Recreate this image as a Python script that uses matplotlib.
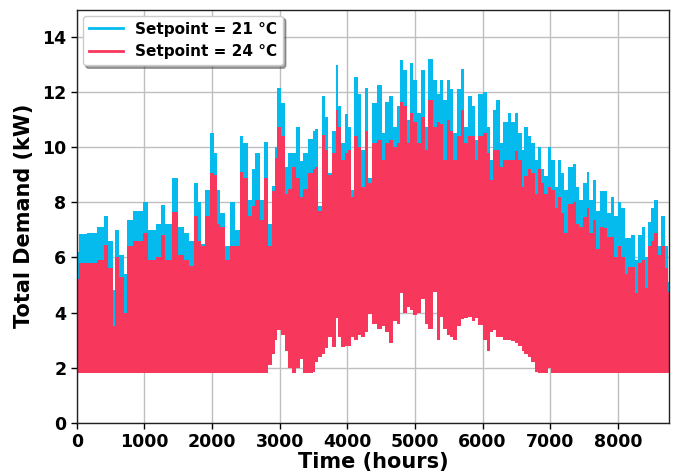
import matplotlib
matplotlib.use("Agg")
import matplotlib.pyplot as plt
from matplotlib.lines import Line2D

hours = [0, 40, 150, 300, 400, 460, 530, 565, 630, 700,
         750, 830, 980, 1050, 1170, 1240, 1300, 1410, 1500, 1590,
         1660, 1740, 1790, 1830, 1900, 1975, 2025, 2075, 2120, 2195,
         2270, 2340, 2415, 2465, 2535, 2585, 2635, 2710, 2770, 2830,
         2890, 2930, 2965, 3025, 3075, 3120, 3180, 3245, 3295, 3350,
         3415, 3490, 3520, 3570, 3620, 3670, 3720, 3770, 3830, 3870,
         3905, 3965, 4010, 4055, 4105, 4155, 4210, 4260, 4310, 4360,
         4435, 4510, 4560, 4615, 4680, 4730, 4780, 4830, 4880, 4925,
         4975, 5025, 5090, 5150, 5200, 5270, 5320, 5370, 5420, 5470,
         5520, 5570, 5620, 5680, 5730, 5780, 5840, 5885, 5935, 6010,
         6060, 6110, 6160, 6205, 6255, 6305, 6370, 6425, 6475, 6525,
         6580, 6620, 6670, 6720, 6770, 6820, 6865, 6915, 6965, 7015,
         7064, 7113, 7160, 7210, 7270, 7335, 7385, 7430, 7480, 7540,
         7580, 7630, 7680, 7730, 7790, 7840, 7900, 7950, 8000, 8050,
         8100, 8150, 8200, 8250, 8300, 8350, 8395, 8445, 8490, 8540,
         8590, 8640, 8690, 8740, 8760]

# upper envelope, setpoint 21 C (kW)
peak_21 = [6.2, 6.85, 6.9, 7.1, 7.5, 6.6, 4.8, 7.0, 6.1, 5.4,
           7.35, 7.7, 8.0, 7.0, 7.2, 7.9, 7.2, 8.9, 7.1, 6.9,
           6.6, 8.7, 8.0, 6.5, 8.45, 10.5, 9.8, 8.45, 7.6, 6.4,
           8.0, 7.0, 10.4, 10.15, 8.1, 9.2, 9.8, 8.1, 10.2, 7.2,
           8.6, 10.0, 12.15, 11.6, 9.3, 9.8, 9.8, 10.75, 9.5, 9.8,
           10.3, 10.6, 10.65, 7.85, 11.85, 11.1, 9.05, 10.6, 13.0, 11.5,
           10.15, 11.2, 10.75, 8.45, 12.55, 11.95, 9.9, 12.15, 8.9, 11.6,
           12.25, 10.5, 11.65, 11.85, 10.75, 11.5, 13.15, 12.8, 11.0, 13.05,
           12.45, 11.25, 12.8, 10.75, 13.2, 12.45, 11.95, 12.45, 11.7, 12.45,
           12.1, 10.5, 12.1, 12.85, 10.75, 11.85, 11.5, 10.25, 11.95, 12.0,
           10.75, 9.55, 11.35, 11.7, 10.15, 10.9, 11.25, 10.9, 11.25, 10.5,
           9.9, 10.75, 10.4, 10.15, 9.55, 10.0, 9.2, 8.95, 10.0, 9.55,
           8.55, 9.55, 9.05, 8.45, 9.3, 9.4, 8.55, 8.1, 8.7, 9.1,
           8.1, 8.8, 7.7, 8.4, 8.4, 7.6, 8.2, 7.5, 8.0, 7.8,
           6.7, 6.7, 6.8, 5.9, 6.8, 7.1, 6.0, 7.3, 7.8, 8.1,
           6.4, 7.5, 6.4, 5.1, 5.0]

# upper envelope, setpoint 24 C (kW)
peak_24 = [5.2, 5.8, 5.8, 5.9, 6.45, 5.6, 3.5, 6.0, 5.3, 4.0,
           6.4, 6.6, 6.9, 5.9, 6.0, 6.8, 5.9, 7.65, 6.1, 5.9,
           5.7, 7.5, 6.6, 6.4, 7.5, 9.05, 9.0, 7.2, 7.1, 5.9,
           6.4, 6.4, 9.1, 8.9, 7.5, 7.85, 8.1, 7.35, 8.9, 6.4,
           8.4, 9.6, 10.75, 10.4, 8.3, 8.5, 9.3, 8.9, 8.2, 8.5,
           9.05, 9.2, 9.3, 7.7, 10.45, 9.9, 9.0, 9.8, 11.35, 10.75,
           9.55, 9.8, 9.9, 8.2, 10.4, 10.0, 8.55, 10.6, 8.7, 10.15,
           10.25, 9.55, 10.15, 10.25, 10.0, 10.15, 11.65, 11.5, 10.15, 11.25,
           10.9, 10.15, 11.1, 9.9, 11.7, 10.75, 10.9, 10.85, 9.55, 11.0,
           10.6, 9.55, 10.4, 11.35, 10.15, 10.4, 10.4, 9.55, 10.4, 10.5,
           9.8, 8.8, 9.9, 9.9, 9.3, 9.55, 9.55, 9.55, 9.85, 9.55,
           8.55, 8.95, 9.2, 9.05, 8.3, 9.2, 8.7, 8.3, 8.55, 8.45,
           7.8, 8.2, 7.6, 6.9, 7.95, 8.0, 7.2, 7.1, 7.45, 7.8,
           6.9, 7.35, 6.3, 7.1, 7.05, 6.75, 6.75, 6.0, 6.4, 6.0,
           5.4, 5.65, 5.65, 4.7, 5.8, 5.9, 4.9, 6.4, 6.6, 6.9,
           6.1, 6.4, 5.6, 4.75, 4.7]

# lower envelope (kW), same for both setpoints
base_demand = [1.8, 1.8, 1.8, 1.8, 1.8, 1.8, 1.8, 1.8, 1.8, 1.8,
               1.8, 1.8, 1.8, 1.8, 1.8, 1.8, 1.8, 1.8, 1.8, 1.8,
               1.8, 1.8, 1.8, 1.8, 1.8, 1.8, 1.8, 1.8, 1.8, 1.8,
               1.8, 1.8, 1.8, 1.8, 1.8, 1.8, 1.8, 1.8, 1.8, 2.1,
               2.5, 3.0, 3.35, 3.2, 2.6, 2.0, 1.8, 2.0, 2.3, 1.8,
               1.8, 1.85, 2.2, 2.4, 2.5, 2.7, 3.1, 2.75, 3.8, 3.1,
               2.75, 2.8, 2.8, 3.1, 3.0, 3.2, 3.1, 3.3, 3.95, 3.6,
               3.4, 3.5, 3.3, 2.9, 3.7, 3.6, 4.7, 4.0, 4.2, 4.1,
               3.9, 4.0, 4.5, 3.6, 3.4, 4.75, 3.0, 3.85, 3.4, 3.2,
               3.1, 3.0, 3.5, 3.75, 3.8, 3.85, 3.7, 3.8, 3.55, 3.0,
               2.6, 3.3, 3.35, 3.1, 3.1, 3.0, 3.0, 2.95, 2.9, 2.8,
               2.6, 2.5, 2.4, 2.2, 1.85, 1.8, 1.8, 1.8, 2.0, 1.8,
               1.8, 1.8, 1.8, 1.8, 1.8, 1.8, 1.8, 1.8, 1.8, 1.8,
               1.8, 1.8, 1.8, 1.8, 1.8, 1.8, 1.8, 1.8, 1.8, 1.8,
               1.8, 1.8, 1.8, 1.8, 1.8, 1.8, 1.8, 1.8, 1.8, 1.8,
               1.8, 1.8, 1.8, 1.8, 1.8]

blue = '#05BBEE'
red = '#F7375B'

fig = plt.figure(figsize=(6.76, 4.76), dpi=100)
ax = fig.add_axes([0.1135, 0.112, 0.8765, 0.868])

ax.grid(True, color='#bfbfbf', linewidth=1.0)
ax.set_axisbelow(True)

ax.fill_between(hours, base_demand, peak_21, step='post', color=blue, linewidth=0)
ax.fill_between(hours, base_demand, peak_24, step='post', color=red, linewidth=0)

ax.set_xlim(0, 8760)
ax.set_ylim(0, 15)
ax.set_xticks(range(0, 9000, 1000))
ax.set_yticks(range(0, 16, 2))

for lbl in ax.get_xticklabels() + ax.get_yticklabels():
    lbl.set_fontweight('bold')
ax.tick_params(labelsize=12.5, length=4, width=1)

ax.set_xlabel('Time (hours)', fontsize=15, fontweight='bold', labelpad=1)
ax.set_ylabel('Total Demand (kW)', fontsize=15, fontweight='bold', labelpad=6)

for sp in ax.spines.values():
    sp.set_color('#222222')
    sp.set_linewidth(1.0)

handles = [Line2D([], [], color=blue, lw=2),
           Line2D([], [], color=red, lw=2)]
ax.legend(handles, ['Setpoint = 21 °C', 'Setpoint = 24 °C'], loc='upper left',
          prop={'weight': 'bold', 'size': 11}, shadow=True, framealpha=1,
          borderaxespad=0.4, handlelength=2.2)

fig.savefig('out.png', dpi=100)
